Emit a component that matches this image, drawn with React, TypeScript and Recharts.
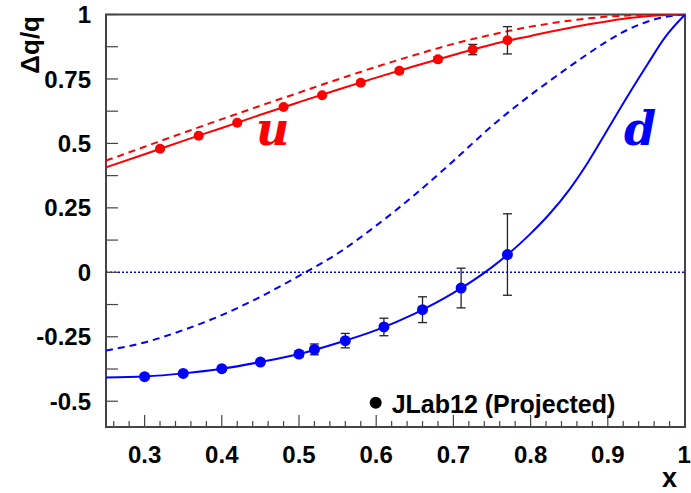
import React from 'react';
import {
  ComposedChart,
  Line,
  Scatter,
  XAxis,
  YAxis,
  ErrorBar,
  ReferenceLine,
  ReferenceArea,
} from 'recharts';

// ---- curves (model predictions) ----
const curveX = [0.25, 0.3, 0.35, 0.4, 0.45, 0.5, 0.55, 0.6, 0.65, 0.7, 0.75, 0.8, 0.825, 0.85, 0.875, 0.9, 0.925, 0.95, 0.975, 1.0];
const uSolid = [0.407, 0.458, 0.51, 0.56, 0.611, 0.66, 0.708, 0.755, 0.8, 0.843, 0.884, 0.917, 0.933, 0.948, 0.962, 0.974, 0.985, 0.993, 0.998, 1.0];
const uDashed = [0.433, 0.487, 0.541, 0.594, 0.646, 0.697, 0.748, 0.797, 0.843, 0.886, 0.922, 0.953, 0.965, 0.976, 0.985, 0.992, 0.996, 0.999, 1.0, 1.0];
const dSolid = [-0.408, -0.404, -0.392, -0.374, -0.348, -0.317, -0.274, -0.224, -0.16, -0.08, 0.02, 0.15, 0.228, 0.32, 0.43, 0.555, 0.68, 0.8, 0.915, 1.0];
const dDashed = [-0.303, -0.272, -0.224, -0.166, -0.095, -0.014, 0.073, 0.181, 0.301, 0.432, 0.568, 0.688, 0.743, 0.797, 0.849, 0.898, 0.94, 0.971, 0.991, 1.0];

// ---- projected data points ----
const uX = [0.32, 0.37, 0.42, 0.48, 0.53, 0.58, 0.63, 0.68, 0.725, 0.77];
const uY = [0.479, 0.53, 0.58, 0.641, 0.687, 0.735, 0.782, 0.826, 0.864, 0.9];
const uErr = [0.004, 0.004, 0.005, 0.005, 0.006, 0.007, 0.008, 0.01, 0.02, 0.053];
const dX = [0.3, 0.35, 0.4, 0.45, 0.5, 0.52, 0.56, 0.61, 0.66, 0.71, 0.77];
const dY = [-0.405, -0.392, -0.374, -0.348, -0.317, -0.299, -0.265, -0.212, -0.145, -0.061, 0.069];
const dErr = [0.005, 0.006, 0.007, 0.009, 0.013, 0.021, 0.028, 0.034, 0.05, 0.077, 0.158];

// ---- ticks ----
const xMajorTicks = [0.3, 0.4, 0.5, 0.6, 0.7, 0.8, 0.9, 1.0];
const xMajorLabels = ['0.3', '0.4', '0.5', '0.6', '0.7', '0.8', '0.9', '1'];
const xMinorTicks = [0.26, 0.28, 0.32, 0.34, 0.36, 0.38, 0.42, 0.44, 0.46, 0.48, 0.52, 0.54, 0.56, 0.58, 0.62, 0.64, 0.66, 0.68, 0.72, 0.74, 0.76, 0.78, 0.82, 0.84, 0.86, 0.88, 0.92, 0.94, 0.96, 0.98];
const yMajorTicks = [-0.5, -0.25, 0, 0.25, 0.5, 0.75, 1];
const yMajorLabels = ['-0.5', '-0.25', '0', '0.25', '0.5', '0.75', '1'];
const yMinorTicks = [-0.375, -0.125, 0.125, 0.375, 0.625, 0.875];

const RED = '#ff0000';
const BLUE = '#0000ff';
const FRAME = '#444444';
const SANS = '"Liberation Sans", Arial, Helvetica, sans-serif';
const SERIF = '"DejaVu Serif", "Liberation Serif", serif';

const W = 691;
const H = 493;

const toCurve = (ys: number[]) => curveX.map((x, i) => ({ x, y: ys[i] }));
const toPoints = (xs: number[], ys: number[], es: number[]) =>
  xs.map((x, i) => ({ x, y: ys[i], err: es[i] }));

const uSolidData = toCurve(uSolid);
const uDashedData = toCurve(uDashed);
const dSolidData = toCurve(dSolid);
const dDashedData = toCurve(dDashed);
const uPoints = toPoints(uX, uY, uErr);
const dPoints = toPoints(dX, dY, dErr);

const xTicks = [...xMajorTicks, ...xMinorTicks].sort((a, b) => a - b);
const yTicks = [...yMajorTicks, ...yMinorTicks].sort((a, b) => a - b);

const findIdx = (arr: number[], v: number) => arr.findIndex((a) => Math.abs(a - v) < 1e-6);

const XTick = (props: any) => {
  const { x, y, payload } = props;
  const idx = findIdx(xMajorTicks, payload.value);
  const major = idx >= 0;
  const last = idx === xMajorTicks.length - 1;
  return (
    <g>
      <line x1={x} y1={y} x2={x} y2={y - (major ? 12 : 6)} stroke={FRAME} strokeWidth={1.2} />
      {major && (
        <text
          x={last ? x - 0.8 : x}
          y={y + 36}
          textAnchor="middle"
          fontFamily={SANS}
          fontWeight="bold"
          fontSize={24}
          fill="#000"
        >
          {xMajorLabels[idx]}
        </text>
      )}
    </g>
  );
};

const YTick = (props: any) => {
  const { x, y, payload } = props;
  const idx = findIdx(yMajorTicks, payload.value);
  return (
    <g>
      <line x1={x} y1={y} x2={x + 12} y2={y} stroke={FRAME} strokeWidth={1.2} />
      {idx >= 0 && (
        <text x={x - 15} y={y} dy="0.36em" textAnchor="end" fontFamily={SANS} fontWeight="bold" fontSize={24} fill="#000">
          {yMajorLabels[idx]}
        </text>
      )}
    </g>
  );
};

const dotShape = (color: string, r: number) => (props: any) => (
  <circle cx={props.cx} cy={props.cy} r={r} fill={color} stroke="none" />
);

export default function App() {
  return (
    <div style={{ position: 'absolute', left: 0, top: 0, width: W, height: H }}>
      <ComposedChart width={W} height={H} margin={{ top: 14.5, right: 6, bottom: 0, left: 0 }}>
        <XAxis
          type="number"
          dataKey="x"
          domain={[0.25, 1]}
          ticks={xTicks}
          interval={0}
          height={66}
          tickSize={0}
          tickMargin={0}
          tickLine={false}
          axisLine={false}
          tick={XTick}
          allowDataOverflow
        />
        <YAxis
          type="number"
          dataKey="y"
          domain={[-0.6, 1]}
          ticks={yTicks}
          interval={0}
          width={106}
          tickSize={0}
          tickMargin={0}
          tickLine={false}
          axisLine={false}
          tick={YTick}
          allowDataOverflow
        />
        <ReferenceLine y={0} stroke={BLUE} strokeWidth={1.5} strokeDasharray="2 2" />
        <Line data={uDashedData} dataKey="y" type="monotone" stroke={RED} strokeWidth={2} strokeDasharray="7 5" dot={false} isAnimationActive={false} />
        <Line data={dDashedData} dataKey="y" type="monotone" stroke={BLUE} strokeWidth={2} strokeDasharray="7 5" dot={false} isAnimationActive={false} />
        <Line data={uSolidData} dataKey="y" type="monotone" stroke={RED} strokeWidth={2} dot={false} isAnimationActive={false} />
        <Line data={dSolidData} dataKey="y" type="monotone" stroke={BLUE} strokeWidth={2} dot={false} isAnimationActive={false} />
        <Scatter data={uPoints} dataKey="y" fill={RED} shape={dotShape(RED, 5)} isAnimationActive={false}>
          <ErrorBar dataKey="err" direction="y" width={4.5} stroke="#222" strokeWidth={1.3} />
        </Scatter>
        <Scatter data={dPoints} dataKey="y" fill={BLUE} shape={dotShape(BLUE, 5.5)} isAnimationActive={false}>
          <ErrorBar dataKey="err" direction="y" width={4.5} stroke="#222" strokeWidth={1.3} />
        </Scatter>
        <ReferenceArea x1={0.25} x2={1} y1={-0.6} y2={1} fill="none" fillOpacity={0} stroke={FRAME} strokeWidth={2} />
      </ComposedChart>
      <svg width={W} height={H} style={{ position: 'absolute', left: 0, top: 0, pointerEvents: 'none' }}>
        <text
          x={39}
          y={16}
          transform="rotate(-90 39 16)"
          textAnchor="end"
          fontFamily={SANS}
          fontWeight="bold"
          fontSize={26}
          fill="#000"
        >
          Δq/q
        </text>
        <text x={677} y={487} textAnchor="end" fontFamily={SANS} fontWeight="bold" fontSize={27} fill="#000">
          x
        </text>
        <text x={256} y={145} fontFamily={SERIF} fontWeight="bold" fontStyle="italic" fontSize={46} fill={RED}>
          u
        </text>
        <text x={624} y={145} fontFamily={SERIF} fontWeight="bold" fontStyle="italic" fontSize={46} fill={BLUE}>
          d
        </text>
        <circle cx={375.7} cy={402.7} r={6} fill="#000" />
        <text x={391.7} y={413.3} fontFamily={SANS} fontWeight="bold" fontSize={25} fill="#000">
          JLab12 (Projected)
        </text>
      </svg>
    </div>
  );
}
